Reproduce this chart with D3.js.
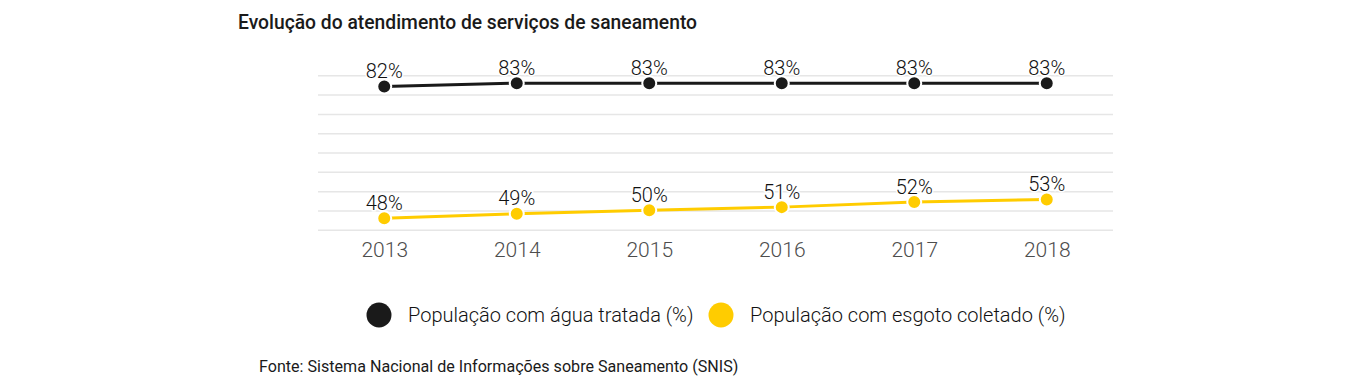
<!DOCTYPE html>
<html lang="pt">
<head>
    <meta charset="UTF-8">
    <title>Evolução do atendimento de serviços de saneamento</title>
    <script src="https://d3js.org/d3.v7.min.js"></script>
    <style>
        body { margin: 0; background: #fff; font-family: Roboto, sans-serif; }
        svg text { font-family: Roboto, sans-serif; }
    </style>
</head>
<body>
<svg width="1365" height="386"></svg>
<script>
    // Data
    const years = ["2013", "2014", "2015", "2016", "2017", "2018"];
    const water = [82.2, 83.1, 83.1, 83.1, 83.1, 83.1];
    const sewage = [48.1, 49.3, 50.2, 51.0, 52.3, 53.0];
    const seriesNames = ["População com água tratada (%)", "População com esgoto coletado (%)"];
    const seriesColors = ["#1a1a1a", "#ffcc00"];
    const yTicks = [45, 50, 55, 60, 65, 70, 75, 80, 85];

    const svg = d3.select("svg");

    // Title and source
    svg.append("text")
        .attr("x", 238).attr("y", 29)
        .style("font-size", "19.3px").style("font-weight", 500).style("fill", "#1a1a1a")
        .text("Evolução do atendimento de serviços de saneamento");

    svg.append("text")
        .attr("x", 259).attr("y", 372)
        .style("font-size", "16.1px").style("fill", "#1a1a1a")
        .text("Fonte: Sistema Nacional de Informações sobre Saneamento (SNIS)");

    // Scales
    const x = d3.scalePoint().domain(years).range([318, 1113]).padding(0.5);
    const y = d3.scaleLinear().domain([45, 85]).range([230.3, 75.8]);

    // Gridlines
    svg.append("g").selectAll("line")
        .data(yTicks)
        .join("line")
        .attr("x1", 318).attr("x2", 1113)
        .attr("y1", d => y(d)).attr("y2", d => y(d))
        .attr("stroke", "#e6e6e6").attr("stroke-width", 1.5);

    // X axis labels
    const xAxis = svg.append("g")
        .attr("transform", "translate(0,240)")
        .call(d3.axisBottom(x).tickSize(0).tickPadding(2));
    xAxis.select(".domain").remove();
    xAxis.selectAll("text")
        .style("font-size", "21px").style("font-weight", 300).style("fill", "#4d4d4d");

    const series = [water, sewage];
    const line = d3.line().x((d, i) => x(years[i])).y(d => y(d));

    series.forEach((vals, s) => {
        const g = svg.append("g");
        g.append("path")
            .datum(vals)
            .attr("d", line)
            .attr("fill", "none")
            .attr("stroke", seriesColors[s])
            .attr("stroke-width", 3);
        g.selectAll("circle")
            .data(vals)
            .join("circle")
            .attr("cx", (d, i) => x(years[i]))
            .attr("cy", d => y(d))
            .attr("r", 7)
            .attr("fill", seriesColors[s])
            .attr("stroke", "#fff").attr("stroke-width", 2);
        g.selectAll("text")
            .data(vals)
            .join("text")
            .attr("x", (d, i) => x(years[i]))
            .attr("y", d => y(d) - 8.5)
            .attr("text-anchor", "middle")
            .style("font-size", "20px").style("font-weight", 300).style("fill", "#111")
            .style("paint-order", "stroke").style("stroke", "#fff").style("stroke-width", 3)
            .text(d => Math.round(d) + "%");
    });

    // Legend
    const legendX = [379, 721];
    seriesNames.forEach((name, s) => {
        svg.append("circle")
            .attr("cx", legendX[s]).attr("cy", 315).attr("r", 12.5)
            .attr("fill", seriesColors[s]);
        svg.append("text")
            .attr("x", legendX[s] + 29).attr("y", 322)
            .style("font-size", "20px").style("font-weight", 300).style("fill", "#111")
            .text(name);
    });
</script>
</body>
</html>
